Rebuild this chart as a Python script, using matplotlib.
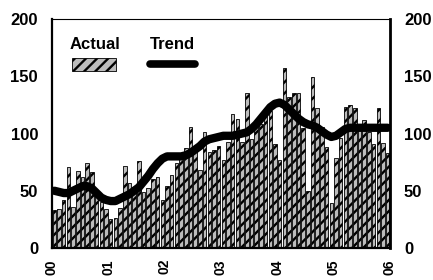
import matplotlib.pyplot as plt
import numpy as np
from matplotlib.patches import Rectangle
from matplotlib.lines import Line2D

plt.rcParams['font.family'] = ['Liberation Sans', 'DejaVu Sans']
plt.rcParams['font.weight'] = 'bold'
plt.rcParams['hatch.linewidth'] = 1.7

# monthly values, Jan 2000 - Dec 2005
actual = [33, 34, 42, 71, 36, 67, 62, 74, 66, 48, 40, 34,
          25, 26, 35, 72, 57, 53, 76, 49, 52, 60, 62, 42,
          54, 64, 74, 83, 87, 106, 85, 68, 101, 84, 86, 89,
          77, 93, 117, 113, 93, 135, 95, 106, 108, 116, 120, 91,
          77, 157, 132, 135, 135, 105, 50, 149, 122, 106, 88, 39,
          79, 96, 123, 125, 122, 103, 112, 101, 91, 122, 92, 83]
trend = [50, 49, 48, 48, 50, 52, 54, 54, 52, 48, 44, 42,
         41, 41, 43, 45, 47, 50, 53, 58, 63, 69, 74, 78,
         80, 80, 80, 80, 81, 83, 86, 89, 93, 95, 96, 97,
         98, 98, 98, 99, 100, 101, 104, 108, 113, 118, 123, 126,
         127, 125, 121, 117, 113, 110, 108, 107, 105, 102, 99, 97,
         98, 101, 104, 105, 105, 105, 105, 105, 105, 105, 105, 105]
year_labels = ['00', '01', '02', '03', '04', '05', '06']
y_ticks = [0, 50, 100, 150, 200]

fig = plt.figure(figsize=(4.33, 2.80), dpi=100)
ax = fig.add_axes([52 / 433, 32 / 280, 338 / 433, 229 / 280])

x = np.arange(len(actual)) + 0.5
ax.bar(x, actual, width=0.74, color='#bcbcbc', edgecolor='black',
       linewidth=0.6, hatch='///', zorder=2)
ax.plot(x, trend, color='black', linewidth=6, solid_capstyle='round', zorder=3)

ax.set_xlim(0, len(actual))
ax.set_ylim(0, 200)
ax.set_xticks(np.arange(0, len(actual) + 1, 12))
ax.set_xticklabels(year_labels, rotation=90, fontsize=10, fontweight='bold')
ax.set_yticks(y_ticks)
ax.tick_params(axis='x', length=0, pad=8)
ax.tick_params(axis='y', length=0, pad=10, labelsize=12, labelright=True)

for side, lw in [('left', 1.6), ('bottom', 1.6), ('right', 2.0), ('top', 0.8)]:
    ax.spines[side].set_linewidth(lw)

# legend: text above the keys
ax.text(0.127, 0.89, 'Actual', transform=ax.transAxes, ha='center', va='center',
        fontsize=12, fontweight='bold')
ax.add_patch(Rectangle((0.059, 0.773), 0.13, 0.057, transform=ax.transAxes,
                       facecolor='#bcbcbc', edgecolor='black', linewidth=0.6,
                       hatch='///', clip_on=False, zorder=4))
ax.text(0.357, 0.89, 'Trend', transform=ax.transAxes, ha='center', va='center',
        fontsize=12, fontweight='bold')
ax.add_line(Line2D([0.29, 0.424], [0.803, 0.803], transform=ax.transAxes,
                   color='black', linewidth=5.5, solid_capstyle='round', zorder=4))

fig.savefig('out.png', dpi=100)
